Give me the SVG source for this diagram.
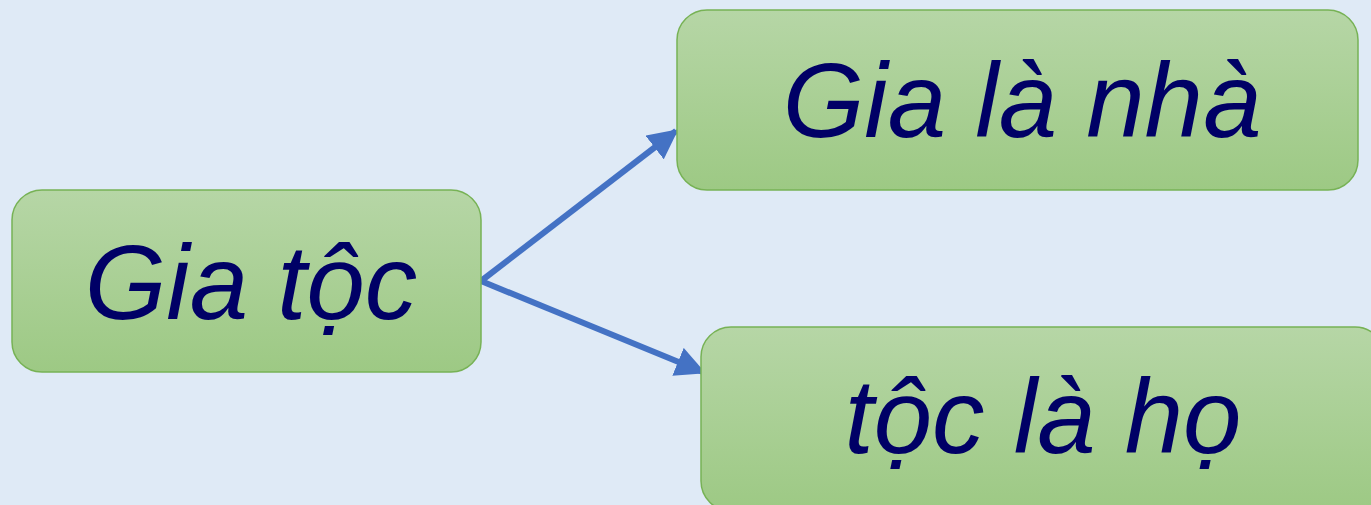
<svg xmlns="http://www.w3.org/2000/svg" width="1371" height="505" viewBox="0 0 1371 505">
<style>
.box{stroke:#77b255;stroke-width:1.5;fill:url(#g)}
.t{font-family:"Liberation Sans",Arial,sans-serif;font-style:italic;fill:#000066;text-anchor:middle}
.c{stroke:#4472c4;stroke-width:6;fill:none;marker-end:url(#ah)}
</style>
<defs>
<linearGradient id="g" x1="0" y1="0" x2="0" y2="1">
<stop offset="0" stop-color="#b6d6a6"/>
<stop offset="1" stop-color="#9dc984"/>
</linearGradient>
<marker id="ah" viewBox="0 0 10 10" refX="9" refY="5" markerWidth="5" markerHeight="5" orient="auto" markerUnits="strokeWidth">
<path d="M0,0 L10,5 L0,10 Z" fill="#4472c4"/>
</marker>
</defs>
<rect width="1371" height="505" fill="#dfeaf6"/>
<g id="connectors">
<line class="c" x1="481" y1="281" x2="676" y2="131"/>
<line class="c" x1="481" y1="281" x2="703" y2="372"/>
</g>
<g id="node-giatoc">
<rect class="box" x="12" y="190" width="469" height="182" rx="30"/>
<text class="t" x="251" y="319" font-size="105">Gia tộc</text>
</g>
<g id="node-gialanha">
<rect class="box" x="677" y="10" width="681" height="180" rx="30"/>
<text class="t" x="1022" y="137" font-size="105">Gia là nhà</text>
</g>
<g id="node-toclaho">
<rect class="box" x="701" y="327" width="684" height="184" rx="30"/>
<text class="t" x="1043" y="453" font-size="105">tộc là họ</text>
</g>
</svg>
